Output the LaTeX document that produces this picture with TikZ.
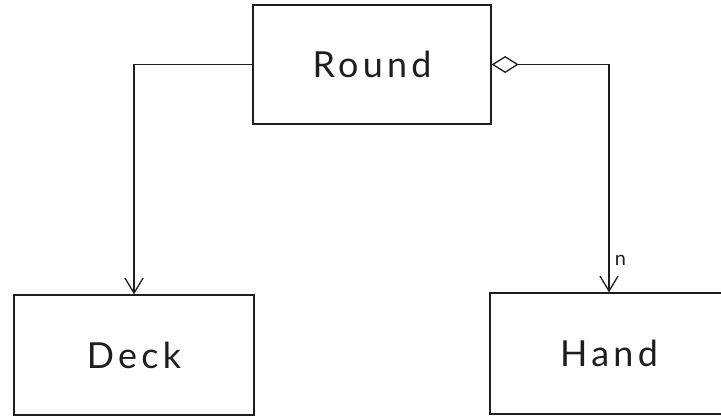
\documentclass[tikz,border=0pt]{standalone}
\usepackage{fontspec}
\setmainfont{Lato}
\newfontfamily\boxfont[LetterSpace=12]{Lato}
\usetikzlibrary{arrows.meta}
\definecolor{ink}{HTML}{1E1E1E}
\begin{document}
\begin{tikzpicture}[x=1bp,y=-1bp,
  classbox/.style={draw=ink, line width=1.3bp, minimum width=238bp, minimum height=119bp,
    inner sep=0pt, font=\boxfont\fontsize{36}{40}\selectfont, text=ink},
  link/.style={draw=ink, line width=1.3bp},
  headV/.style={-{Straight Barb[length=15bp, width=18bp, line width=1.3bp]}},
  agg/.style={{Diamond[open, length=27bp, width=17bp, line width=1.3bp]}-{Straight Barb[length=15bp, width=18bp, line width=1.3bp]}}]
\useasboundingbox (0,0) rectangle (721,418);
\clip (0,0) rectangle (721,418);
\node[classbox] (round) at (372,64.5) {Round};
\node[classbox, minimum width=240bp, minimum height=120bp] (deck) at (134,355) {Deck};
\node[classbox, minimum height=121bp] (hand) at (609,353.5) {Hand};
\draw[link, headV] (round.west) -| (deck.north);
\draw[link, agg] (round.east) -| (hand.north)
  node[pos=0.93, right=2bp, font=\fontsize{20}{22}\selectfont, text=ink] (mult) {n};
\end{tikzpicture}
\end{document}
